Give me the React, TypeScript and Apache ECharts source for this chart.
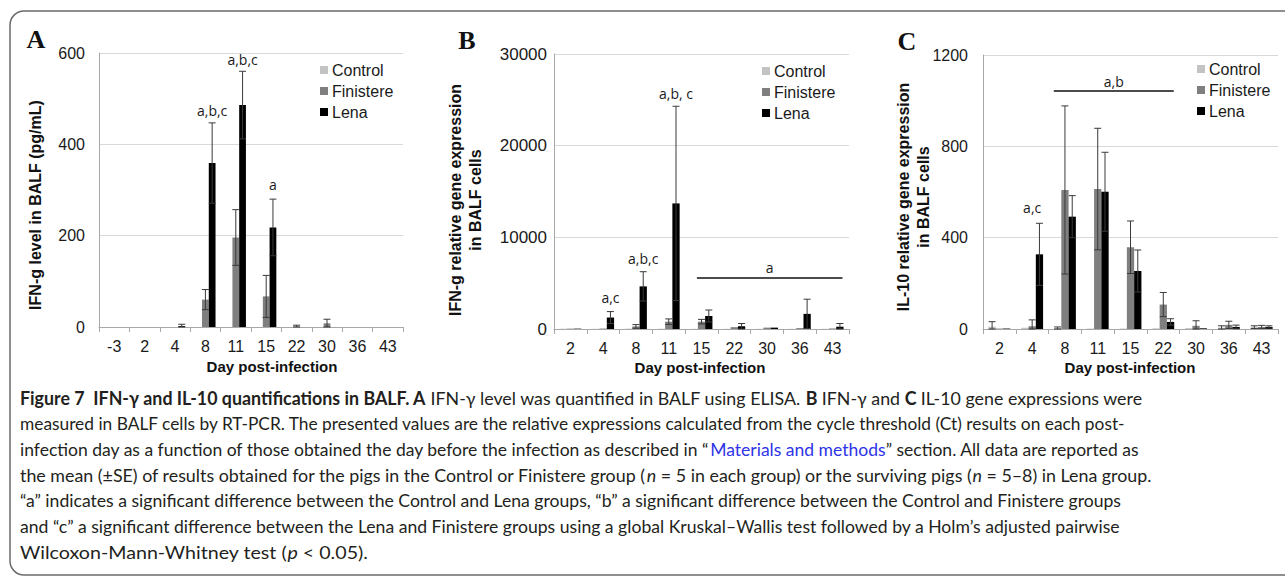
import React, { useEffect, useRef } from "react";
import * as echarts from "echarts";

// ---------- data ----------
const GROUPS = ["Control", "Finistere", "Lena"];
const GROUP_COLORS = ["#c3c3c3", "#7f7f7f", "#000000"];

// Panel A: IFN-g level in BALF (pg/mL)
const daysA = ["-3", "2", "4", "8", "11", "15", "22", "30", "36", "43"];
const controlA = [0, 0, 0, 0, 0, 0, 0, 0, 0, 0];
const finistereA = [0, 0, 0, 60, 196, 67, 1, 8, 0, 0];
const lenaA = [0, 0, 2, 359, 486, 218, 0, 0, 0, 0];
const controlErrA = [0, 0, 0, 0, 0, 0, 0, 0, 0, 0];
const finistereErrA = [0, 0, 0, 22, 61, 46, 3, 9, 0, 0];
const lenaErrA = [0, 0, 4, 88, 74, 62, 0, 0, 0, 0];
const axisA = { max: 600, interval: 200 };
const labelsA = [
  { cat: 3, value: 473, text: "a,b,c", slot: 2 },
  { cat: 4, value: 585, text: "a,b,c", slot: 2 },
  { cat: 5, value: 313, text: "a", slot: 2 },
];
const spansA: { from: number; to: number; value: number; text: string; textValue: number }[] = [];

// Panel B: IFN-g relative gene expression in BALF cells
const daysB = ["2", "4", "8", "11", "15", "22", "30", "36", "43"];
const controlB = [30, 20, 40, 30, 20, 20, 20, 20, 20];
const finistereB = [40, 50, 280, 800, 800, 200, 150, 100, 60];
const lenaB = [40, 1250, 4650, 13700, 1420, 300, 150, 1650, 250];
const controlErrB = [0, 0, 0, 0, 0, 0, 0, 0, 0];
const finistereErrB = [0, 0, 200, 300, 250, 0, 0, 0, 0];
const lenaErrB = [0, 650, 1600, 10600, 650, 300, 0, 1600, 350];
const axisB = { max: 30000, interval: 10000 };
const labelsB = [
  { cat: 1, value: 3490, text: "a,c", slot: 2 },
  { cat: 2, value: 7745, text: "a,b,c", slot: 2 },
  { cat: 3, value: 25740, text: "a,b, c", slot: 2 },
];
const spansB = [{ from: 3.86, to: 8.3, value: 5560, text: "a", textValue: 6760 }];

// Panel C: IL-10 relative gene expression in BALF cells
const daysC = ["2", "4", "8", "11", "15", "22", "30", "36", "43"];
const controlC = [10, 6, 4, 2, 2, 3, 4, 6, 8];
const finistereC = [2, 12, 609, 613, 358, 107, 14, 18, 9];
const lenaC = [2, 327, 492, 601, 254, 31, 3, 9, 9];
const controlErrC = [22, 0, 5, 0, 0, 0, 0, 8, 6];
const finistereErrC = [0, 28, 368, 266, 115, 53, 22, 16, 7];
const lenaErrC = [0, 136, 92, 173, 92, 14, 0, 8, 5];
const axisC = { max: 1200, interval: 400 };
const labelsC = [{ cat: 1, value: 534, text: "a,c", slot: 1 }];
const spansC = [{ from: 1.66, to: 5.32, value: 1042, text: "a,b", textValue: 1086 }];

const PANELS = [
  { days: daysA, values: [controlA, finistereA, lenaA], errors: [controlErrA, finistereErrA, lenaErrA], axis: axisA, labels: labelsA, spans: spansA },
  { days: daysB, values: [controlB, finistereB, lenaB], errors: [controlErrB, finistereErrB, lenaErrB], axis: axisB, labels: labelsB, spans: spansB },
  { days: daysC, values: [controlC, finistereC, lenaC], errors: [controlErrC, finistereErrC, lenaErrC], axis: axisC, labels: labelsC, spans: spansC },
];

const Y_TITLES = [
  "IFN-g level in BALF (pg/mL)",
  "IFN-g relative gene expression\nin BALF cells",
  "IL-10 relative gene expression\nin BALF cells",
];
const X_TITLE = "Day post-infection";
const LETTERS = ["A", "B", "C"];

type Tok = [string, string];
const CAPTION: Tok[][] = [
  [
    ["b", "Figure 7\u00a0\u00a0IFN-γ and IL-10 quantifications in BALF. A "],
    ["n", "IFN-γ level was quantified in BALF using ELISA. "],
    ["b", "B "],
    ["n", "IFN-γ and "],
    ["b", "C "],
    ["n", "IL-10 gene expressions were"],
  ],
  [["n", "measured in BALF cells by RT-PCR. The presented values are the relative expressions calculated from the cycle threshold (Ct) results on each post-"]],
  [
    ["n", "infection day as a function of those obtained the day before the infection as described in “"],
    ["l", "Materials and methods"],
    ["n", "” section. All data are reported as"],
  ],
  [
    ["n", "the mean (±SE) of results obtained for the pigs in the Control or Finistere group ("],
    ["i", "n"],
    ["n", "\u00a0= 5 in each group) or the surviving pigs ("],
    ["i", "n"],
    ["n", "\u00a0= 5–8) in Lena group."],
  ],
  [["n", "“a” indicates a significant difference between the Control and Lena groups, “b” a significant difference between the Control and Finistere groups"]],
  [["n", "and “c” a significant difference between the Lena and Finistere groups using a global Kruskal–Wallis test followed by a Holm’s adjusted pairwise"]],
  [
    ["n", "Wilcoxon-Mann-Whitney test ("],
    ["i", "p"],
    ["n", "\u00a0< 0.05)."],
  ],
];

// ---------- layout / style ----------
const SANS = "'Liberation Sans', Arial, sans-serif";
const CAP_FONT = "Lato";
const CAP_SIZE = 18;
const GAP = 1 / 3;
const LAYOUT = [
  { grid: { left: 99, top: 53, width: 304, height: 274 }, yMargin: 14, ySize: 16, legend: { left: 320, top: 62 }, letter: [36, 39], yTitle: [35, 205], xTitle: [272, 366] },
  { grid: { left: 554, top: 54, width: 295, height: 275 }, yMargin: 7, ySize: 17, legend: { left: 762, top: 63 }, letter: [467, 40], yTitle: [465, 200], xTitle: [700, 367] },
  { grid: { left: 983, top: 55, width: 295, height: 274 }, yMargin: 15, ySize: 16, legend: { left: 1197, top: 61 }, letter: [907, 41], yTitle: [913, 197], xTitle: [1130, 367] },
];
const CAPTION_X = 20;
const CAPTION_Y0 = 398;
const CAPTION_STEP = 25.6;
const CAPTION_ENDS = [1142, 1127, 1140, 1152, 1122, 1120, 368];

function tokWeight(k: string) {
  return k === "b" ? "bold" : "normal";
}
function tokStyle(k: string) {
  return k === "i" ? "italic" : "normal";
}
function tokFont(k: string, size: number) {
  return `${tokStyle(k)} ${tokWeight(k)} ${size}px ${CAP_FONT}`;
}

function measureLine(tokens: Tok[]) {
  const ctx = document.createElement("canvas").getContext("2d")!;
  let w = 0;
  for (const [k, s] of tokens) {
    ctx.font = tokFont(k, CAP_SIZE);
    w += ctx.measureText(s).width;
  }
  return w;
}

function buildOption() {
  const series: any[] = [];
  PANELS.forEach((p, k) => {
    GROUPS.forEach((g, gi) => {
      series.push({
        type: "bar",
        name: g,
        xAxisIndex: k,
        yAxisIndex: k,
        data: p.values[gi],
        barGap: "0%",
        barCategoryGap: `${GAP * 100}%`,
        itemStyle: { color: GROUP_COLORS[gi] },
        silent: true,
      });
    });
    GROUPS.forEach((g, gi) => {
      const errs = p.errors[gi];
      series.push({
        type: "custom",
        xAxisIndex: k,
        yAxisIndex: k,
        z: 5,
        silent: true,
        encode: { x: 0, y: 1 },
        data: p.values[gi].map((v, i) => [i, v, errs[i]]),
        renderItem: (params: any, api: any) => {
          const idx = api.value(0);
          const v = api.value(1);
          const e = api.value(2);
          if (!e) return null;
          const bw = api.size([1, 0])[0];
          const barW = (bw * (1 - GAP)) / 3;
          const cx = api.coord([idx, v])[0] + (gi - 1) * barW;
          const yTop = api.coord([idx, v + e])[1];
          const yBot = api.coord([idx, Math.max(0, v - e)])[1];
          const cap = 3.5;
          const st = { stroke: "#3a3a3a", lineWidth: 1 };
          return {
            type: "group",
            children: [
              { type: "line", shape: { x1: cx, y1: yTop, x2: cx, y2: yBot }, style: st },
              { type: "line", shape: { x1: cx - cap, y1: yTop, x2: cx + cap, y2: yTop }, style: st },
              { type: "line", shape: { x1: cx - cap, y1: yBot, x2: cx + cap, y2: yBot }, style: st },
            ],
          };
        },
      });
    });
    // significance labels above bars
    series.push({
      type: "custom",
      xAxisIndex: k,
      yAxisIndex: k,
      z: 6,
      silent: true,
      encode: { x: 0, y: 1 },
      data: p.labels.map((l) => [l.cat, l.value]),
      renderItem: (params: any, api: any) => {
        const lab = p.labels[params.dataIndex];
        const bw = api.size([1, 0])[0];
        const barW = (bw * (1 - GAP)) / 3;
        const pt = api.coord([api.value(0), api.value(1)]);
        return {
          type: "text",
          x: pt[0] + (lab.slot - 1) * barW,
          y: pt[1],
          style: { text: lab.text, fontSize: 14, fontFamily: "'Open Sans', sans-serif", fill: "#1a1a1a", align: "center", verticalAlign: "middle" },
        };
      },
    });
    if (p.spans.length) {
      series.push({
        type: "custom",
        xAxisIndex: k,
        yAxisIndex: k,
        z: 6,
        silent: true,
        encode: { x: 0, y: 1 },
        data: p.spans.map((s) => [0, s.value]),
        renderItem: (params: any, api: any) => {
          const s = p.spans[params.dataIndex];
          const bw = api.size([1, 0])[0];
          const x0 = api.coord([0, s.value])[0];
          const y = api.coord([0, s.value])[1];
          const yt = api.coord([0, s.textValue])[1];
          const xa = x0 + s.from * bw;
          const xb = x0 + s.to * bw;
          return {
            type: "group",
            children: [
              { type: "line", shape: { x1: xa, y1: y, x2: xb, y2: y }, style: { stroke: "#111", lineWidth: 1.5 } },
              {
                type: "text",
                x: (xa + xb) / 2,
                y: yt,
                style: { text: s.text, fontSize: 14, fontFamily: "'Open Sans', sans-serif", fill: "#1a1a1a", align: "center", verticalAlign: "middle" },
              },
            ],
          };
        },
      });
    }
  });

  const graphic: any[] = [
    {
      type: "rect",
      shape: { x: 10, y: 11, width: 1320, height: 564, r: 14 },
      style: { fill: "none", stroke: "#6b6b6b", lineWidth: 1.5 },
      z: 0,
    },
  ];
  LAYOUT.forEach((l, k) => {
    graphic.push({
      type: "text",
      x: l.letter[0],
      y: l.letter[1],
      style: { text: LETTERS[k], font: "bold 26px 'Liberation Serif', 'Times New Roman', serif", fill: "#111", align: "center", verticalAlign: "middle" },
    });
    graphic.push({
      type: "text",
      x: l.yTitle[0],
      y: l.yTitle[1],
      rotation: Math.PI / 2,
      style: { text: Y_TITLES[k], fontSize: 16, fontWeight: "bold", fontFamily: SANS, lineHeight: 20, fill: "#111", align: "center", verticalAlign: "middle" },
    });
    graphic.push({
      type: "text",
      x: l.xTitle[0],
      y: l.xTitle[1],
      style: { text: X_TITLE, fontSize: 15, fontWeight: "bold", fontFamily: SANS, fill: "#111", align: "center", verticalAlign: "middle" },
    });
  });

  const mk = (k: string, fill: string) => ({
    fontSize: CAP_SIZE,
    fontFamily: CAP_FONT,
    fontWeight: tokWeight(k),
    fontStyle: tokStyle(k),
    fill,
  });
  const rich: any = {
    n: mk("n", "#231f20"),
    b: mk("b", "#231f20"),
    i: mk("i", "#231f20"),
    l: mk("l", "#2d33e6"),
  };
  CAPTION.forEach((line, li) => {
    const w = measureLine(line);
    const target = CAPTION_ENDS[li] - CAPTION_X;
    const sx = w > 0 ? target / w : 1;
    graphic.push({
      type: "text",
      x: CAPTION_X,
      y: CAPTION_Y0 + li * CAPTION_STEP,
      scaleX: sx,
      style: {
        text: line.map(([k, s]) => `{${k}|${s}}`).join(""),
        rich,
        fontSize: CAP_SIZE,
        fontFamily: CAP_FONT,
        fontWeight: "normal",
        fill: "#231f20",
        align: "left",
        verticalAlign: "middle",
      },
    });
  });

  return {
    animation: false,
    backgroundColor: "#ffffff",
    textStyle: { fontFamily: SANS },
    grid: LAYOUT.map((l) => ({ ...l.grid, containLabel: false })),
    legend: LAYOUT.map((l) => ({
      data: GROUPS,
      orient: "vertical",
      left: l.legend.left,
      top: l.legend.top,
      itemWidth: 8,
      itemHeight: 8,
      itemGap: 5,
      icon: "rect",
      selectedMode: false,
      padding: 0,
      textStyle: { fontSize: 16, color: "#1a1a1a", fontFamily: SANS, lineHeight: 16, padding: [0, 0, 0, -1] },
    })),
    xAxis: PANELS.map((p, k) => ({
      type: "category",
      gridIndex: k,
      data: p.days,
      axisLine: { lineStyle: { color: "#a8a8a8", width: 1 } },
      axisTick: { show: true, length: 5, alignWithLabel: false, lineStyle: { color: "#a8a8a8" } },
      axisLabel: { fontSize: 16, color: "#1a1a1a", margin: 11, interval: 0, fontFamily: SANS },
      splitLine: { show: false },
    })),
    yAxis: PANELS.map((p, k) => ({
      type: "value",
      gridIndex: k,
      min: 0,
      max: p.axis.max,
      interval: p.axis.interval,
      axisLine: { show: true, lineStyle: { color: "#a8a8a8", width: 1 } },
      axisTick: { show: false },
      axisLabel: {
        fontSize: LAYOUT[k].ySize,
        color: "#1a1a1a",
        margin: LAYOUT[k].yMargin,
        fontFamily: SANS,
        formatter: (v: number) => String(v),
      },
      splitLine: { show: true, lineStyle: { color: "#d9d9d9", width: 1 } },
    })),
    series,
    graphic,
  };
}

export default function App() {
  const ref = useRef<HTMLDivElement>(null);
  useEffect(() => {
    if (!ref.current) return;
    const chart = echarts.init(ref.current, undefined, { renderer: "svg" });
    chart.setOption(buildOption() as any);
    return () => chart.dispose();
  }, []);
  return (
    <div
      ref={ref}
      style={{ position: "absolute", left: 0, top: 0, width: 1285, height: 576, background: "#fff" }}
    />
  );
}
